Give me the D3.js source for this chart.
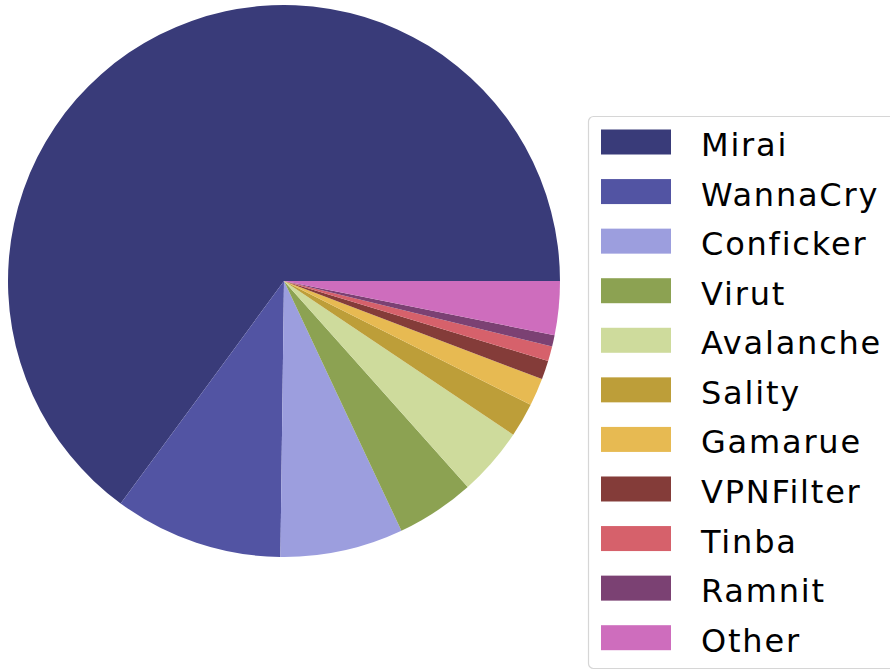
<!DOCTYPE html>
<html>
<head>
<meta charset="utf-8">
<script src="https://cdn.jsdelivr.net/npm/d3@7"></script>
<style>
  body { margin: 0; background: #fff; }
  svg { display: block; font-family: "DejaVu Sans", sans-serif; }
</style>
</head>
<body>
<div id="chart"></div>
<script>
// share of each family (percent)
var labels = ["Mirai", "WannaCry", "Conficker", "Virut", "Avalanche", "Sality",
  "Gamarue", "VPNFilter", "Tinba", "Ramnit", "Other"]
var shares = [64.9, 9.87, 7.2, 4.6, 4.0, 2.0, 1.62, 1.1, 0.87, 0.66, 3.15]
var colors = ["#393b79", "#5254a3", "#9c9ede", "#8ca252", "#cedb9c", "#bd9e39",
  "#e7ba52", "#843c39", "#d6616b", "#7b4173", "#ce6dbd"]

var width = 890, height = 670
var cx = 284, cy = 281, radius = 276

var data = labels.map(function (d, i) {
  return { label: d, value: shares[i], color: colors[i] }
})

var svg = d3.select("#chart").append("svg")
  .attr("width", width)
  .attr("height", height)

// matplotlib style: start at 3 o'clock, go counterclockwise
var pie = d3.pie()
  .sort(null)
  .value(d => d.value)
  .startAngle(Math.PI / 2)
  .endAngle(Math.PI / 2 - 2 * Math.PI)

var arc = d3.arc().innerRadius(0).outerRadius(radius)

svg.append("g")
  .attr("transform", `translate(${cx},${cy})`)
  .selectAll("path")
  .data(pie(data))
  .join("path")
  .attr("d", arc)
  .attr("fill", d => d.data.color)

// legend
var legX = 588, legY = 116
var rowStep = 49.57
var row = d3.scaleLinear().domain([0, 1]).range([0, rowStep])

var legend = svg.append("g")

legend.append("rect")
  .attr("x", legX + 0.5)
  .attr("y", legY + 0.5)
  .attr("width", 340)
  .attr("height", 552)
  .attr("rx", 5)
  .attr("fill", "#fff")
  .attr("stroke", "#d6d6d6")
  .attr("stroke-width", 1.2)

var item = legend.selectAll("g.item")
  .data(data)
  .join("g")
  .attr("class", "item")
  .attr("transform", (d, i) => `translate(0,${row(i)})`)

item.append("rect")
  .attr("x", 601)
  .attr("y", 129.5)
  .attr("width", 70)
  .attr("height", 25)
  .attr("fill", d => d.color)

item.append("text")
  .attr("x", 701)
  .attr("y", 156)
  .attr("font-size", 32)
  .attr("letter-spacing", 1.8)
  .attr("fill", "#000")
  .text(d => d.label)
</script>
</body>
</html>
